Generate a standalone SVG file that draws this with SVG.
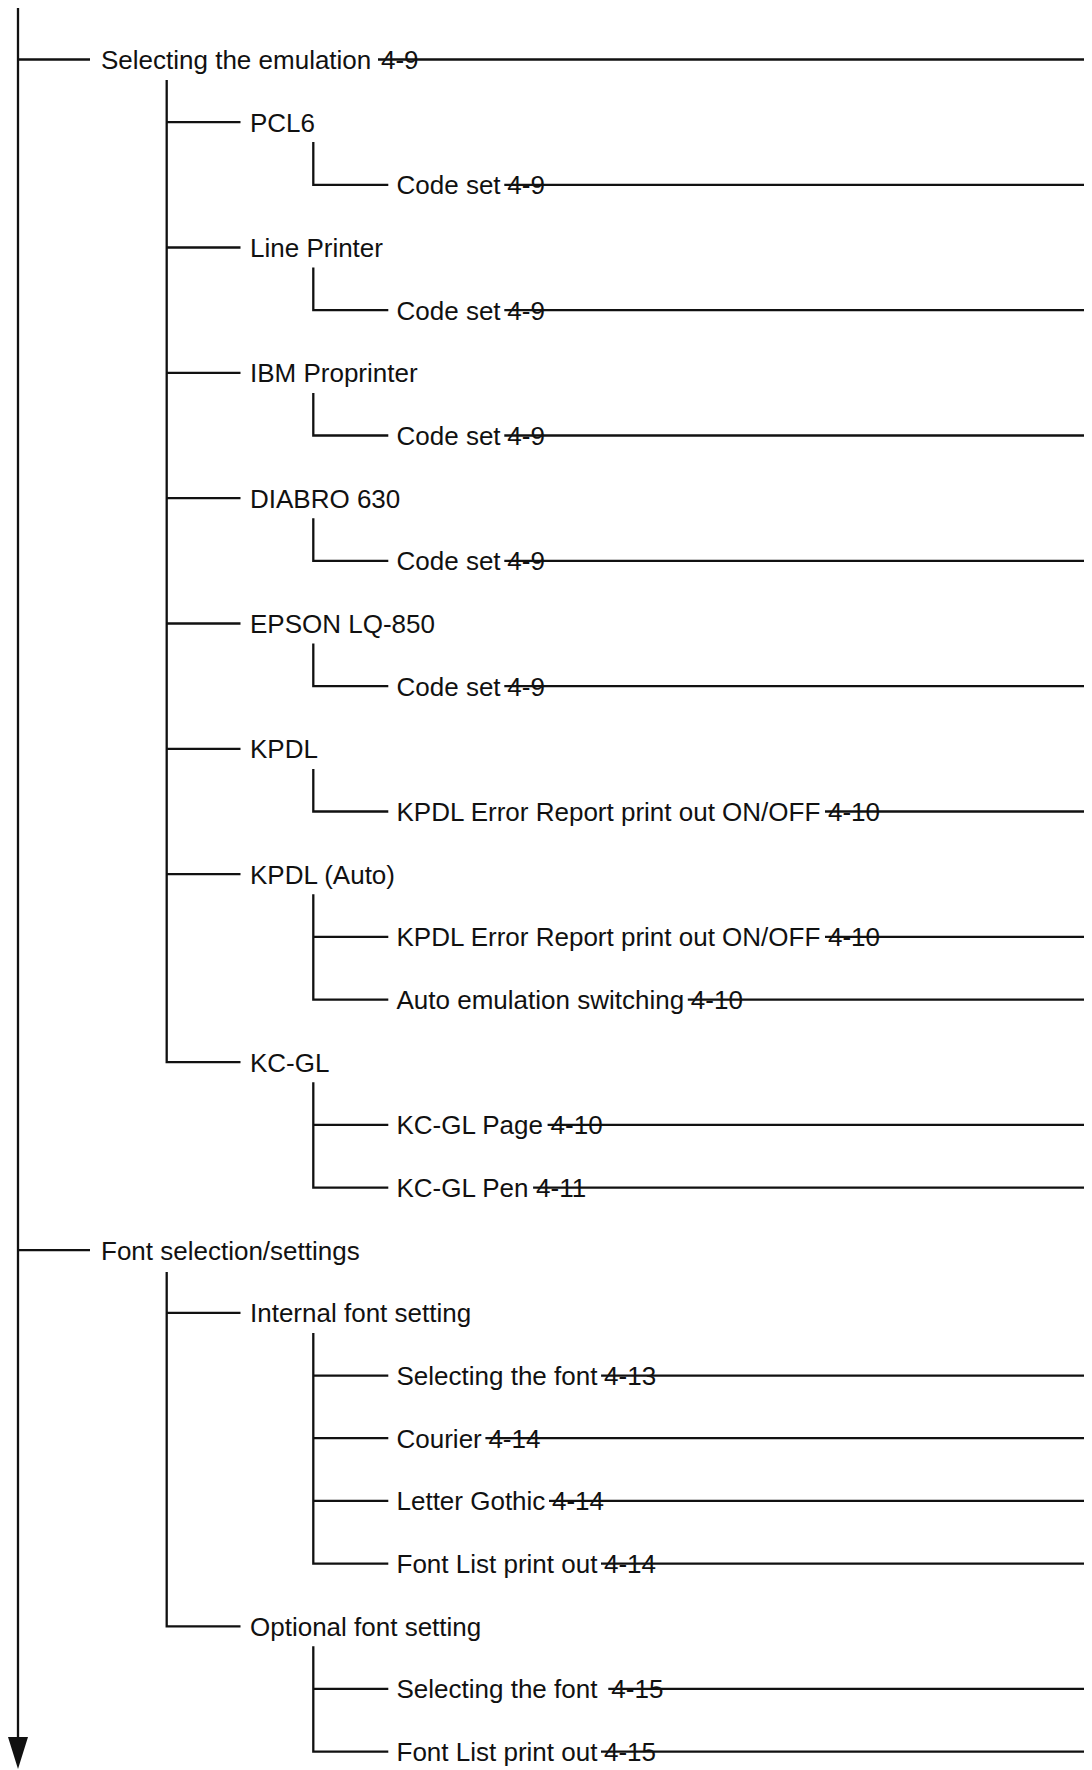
<svg xmlns="http://www.w3.org/2000/svg" width="1092" height="1770" viewBox="0 0 1092 1770">
<style>
  .t { font-family: "Liberation Sans", Arial, Helvetica, sans-serif; font-size: 26px; fill: #111; }
  .ln { stroke: #111; stroke-width: 2.3; fill: none; stroke-linecap: butt; }
  .arrow { fill: #111; }
</style>
<rect width="1092" height="1770" fill="#fff"/>
<g id="connectors">
  <!-- main trunk -->
  <line class="ln" x1="18" y1="8" x2="18" y2="1740"/>
  <polygon class="arrow" points="8,1737 28,1737 18,1769"/>
  <line class="ln" x1="18" y1="59.5" x2="90" y2="59.5"/>
  <line class="ln" x1="18" y1="1250.2" x2="90" y2="1250.2"/>
  <!-- level 2 under Selecting the emulation -->
  <path class="ln" d="M166.7 80 V1062.2 H240.5"/>
  <line class="ln" x1="166.7" y1="122.2" x2="240.5" y2="122.2"/>
  <line class="ln" x1="166.7" y1="247.5" x2="240.5" y2="247.5"/>
  <line class="ln" x1="166.7" y1="372.9" x2="240.5" y2="372.9"/>
  <line class="ln" x1="166.7" y1="498.2" x2="240.5" y2="498.2"/>
  <line class="ln" x1="166.7" y1="623.5" x2="240.5" y2="623.5"/>
  <line class="ln" x1="166.7" y1="748.9" x2="240.5" y2="748.9"/>
  <line class="ln" x1="166.7" y1="874.2" x2="240.5" y2="874.2"/>
  <!-- level 3 -->
  <path class="ln" d="M313.3 142 V184.8 H388.3"/>
  <path class="ln" d="M313.3 267.5 V310.2 H388.3"/>
  <path class="ln" d="M313.3 392.9 V435.5 H388.3"/>
  <path class="ln" d="M313.3 518.2 V560.9 H388.3"/>
  <path class="ln" d="M313.3 643.5 V686.2 H388.3"/>
  <path class="ln" d="M313.3 768.9 V811.5 H388.3"/>
  <path class="ln" d="M313.3 894.2 V999.6 H388.3"/>
  <line class="ln" x1="313.3" y1="936.9" x2="388.3" y2="936.9"/>
  <path class="ln" d="M313.3 1082.2 V1187.6 H388.3"/>
  <line class="ln" x1="313.3" y1="1124.9" x2="388.3" y2="1124.9"/>
  <!-- level 2 under Font selection/settings -->
  <path class="ln" d="M166.7 1272 V1626.3 H240.5"/>
  <line class="ln" x1="166.7" y1="1312.9" x2="240.5" y2="1312.9"/>
  <path class="ln" d="M313.3 1332.9 V1563.6 H388.3"/>
  <line class="ln" x1="313.3" y1="1375.6" x2="388.3" y2="1375.6"/>
  <line class="ln" x1="313.3" y1="1438.2" x2="388.3" y2="1438.2"/>
  <line class="ln" x1="313.3" y1="1500.9" x2="388.3" y2="1500.9"/>
  <path class="ln" d="M313.3 1646.3 V1751.6 H388.3"/>
  <line class="ln" x1="313.3" y1="1688.9" x2="388.3" y2="1688.9"/>
  <!-- page reference leader lines -->
  <line class="ln" x1="378" y1="59.5" x2="1084" y2="59.5"/>
  <line class="ln" x1="504.3" y1="184.8" x2="1084" y2="184.8"/>
  <line class="ln" x1="504.3" y1="310.2" x2="1084" y2="310.2"/>
  <line class="ln" x1="504.3" y1="435.5" x2="1084" y2="435.5"/>
  <line class="ln" x1="504.3" y1="560.9" x2="1084" y2="560.9"/>
  <line class="ln" x1="504.3" y1="686.2" x2="1084" y2="686.2"/>
  <line class="ln" x1="825" y1="811.5" x2="1084" y2="811.5"/>
  <line class="ln" x1="825" y1="936.9" x2="1084" y2="936.9"/>
  <line class="ln" x1="687.8" y1="999.6" x2="1084" y2="999.6"/>
  <line class="ln" x1="547.6" y1="1124.9" x2="1084" y2="1124.9"/>
  <line class="ln" x1="533.1" y1="1187.6" x2="1084" y2="1187.6"/>
  <line class="ln" x1="601.1" y1="1375.6" x2="1084" y2="1375.6"/>
  <line class="ln" x1="485.4" y1="1438.2" x2="1084" y2="1438.2"/>
  <line class="ln" x1="549" y1="1500.9" x2="1084" y2="1500.9"/>
  <line class="ln" x1="601" y1="1563.6" x2="1084" y2="1563.6"/>
  <line class="ln" x1="608.3" y1="1688.9" x2="1084" y2="1688.9"/>
  <line class="ln" x1="601" y1="1751.6" x2="1084" y2="1751.6"/>
</g>
<g id="n-emulation"><text class="t" x="101" y="68.8">Selecting the emulation <tspan x="381">4-9</tspan></text></g>
<g id="n-pcl6"><text class="t" x="250" y="131.5">PCL6</text></g>
<g id="n-pcl6-code"><text class="t" x="396.5" y="194.1">Code set <tspan x="507.3">4-9</tspan></text></g>
<g id="n-line"><text class="t" x="250" y="256.8">Line Printer</text></g>
<g id="n-line-code"><text class="t" x="396.5" y="319.5">Code set <tspan x="507.3">4-9</tspan></text></g>
<g id="n-ibm"><text class="t" x="250" y="382.2">IBM Proprinter</text></g>
<g id="n-ibm-code"><text class="t" x="396.5" y="444.8">Code set <tspan x="507.3">4-9</tspan></text></g>
<g id="n-diablo"><text class="t" x="250" y="507.5">DIABRO 630</text></g>
<g id="n-diablo-code"><text class="t" x="396.5" y="570.2">Code set <tspan x="507.3">4-9</tspan></text></g>
<g id="n-epson"><text class="t" x="250" y="632.8">EPSON LQ-850</text></g>
<g id="n-epson-code"><text class="t" x="396.5" y="695.5">Code set <tspan x="507.3">4-9</tspan></text></g>
<g id="n-kpdl"><text class="t" x="250" y="758.2">KPDL</text></g>
<g id="n-kpdl-err"><text class="t" x="396.5" y="820.8">KPDL Error Report print out ON/OFF <tspan x="828">4-10</tspan></text></g>
<g id="n-kpdl-auto"><text class="t" x="250" y="883.5">KPDL (Auto)</text></g>
<g id="n-kpdl-auto-err"><text class="t" x="396.5" y="946.2">KPDL Error Report print out ON/OFF <tspan x="828">4-10</tspan></text></g>
<g id="n-auto-switch"><text class="t" x="396.5" y="1008.9">Auto emulation switching <tspan x="690.8">4-10</tspan></text></g>
<g id="n-kcgl"><text class="t" x="250" y="1071.5">KC-GL</text></g>
<g id="n-kcgl-page"><text class="t" x="396.5" y="1134.2">KC-GL Page <tspan x="550.6">4-10</tspan></text></g>
<g id="n-kcgl-pen"><text class="t" x="396.5" y="1196.9">KC-GL Pen <tspan x="536.1">4-11</tspan></text></g>
<g id="n-font"><text class="t" x="101" y="1259.5">Font selection/settings</text></g>
<g id="n-internal"><text class="t" x="250" y="1322.2">Internal font setting</text></g>
<g id="n-int-select"><text class="t" x="396.5" y="1384.9">Selecting the font <tspan x="604.1">4-13</tspan></text></g>
<g id="n-courier"><text class="t" x="396.5" y="1447.5">Courier <tspan x="488.4">4-14</tspan></text></g>
<g id="n-letter"><text class="t" x="396.5" y="1510.2">Letter Gothic <tspan x="552">4-14</tspan></text></g>
<g id="n-int-list"><text class="t" x="396.5" y="1572.9">Font List print out <tspan x="604">4-14</tspan></text></g>
<g id="n-optional"><text class="t" x="250" y="1635.6">Optional font setting</text></g>
<g id="n-opt-select"><text class="t" x="396.5" y="1698.2">Selecting the font  <tspan x="611.3">4-15</tspan></text></g>
<g id="n-opt-list"><text class="t" x="396.5" y="1760.9">Font List print out <tspan x="604">4-15</tspan></text></g>
</svg>
